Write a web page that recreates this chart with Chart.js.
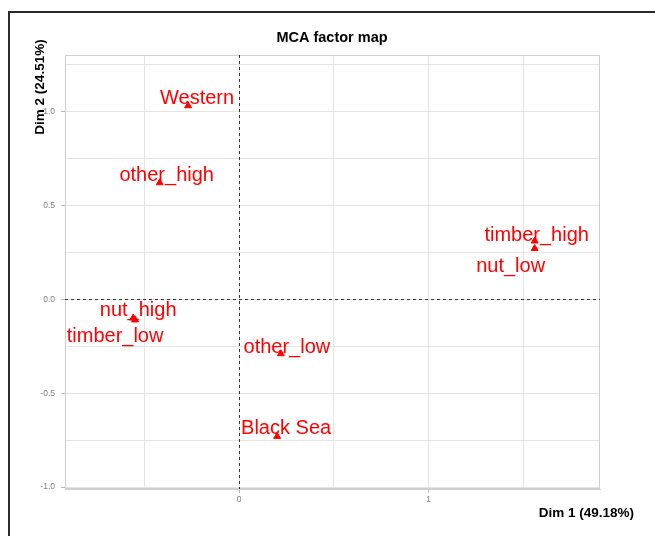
<!DOCTYPE html>
<html>
<head>
<meta charset="utf-8">
<script src="https://cdn.jsdelivr.net/npm/chart.js@4"></script>
<style>
  html, body { margin: 0; padding: 0; background: #fff; }
  #wrap { width: 655px; height: 536px; }
</style>
</head>
<body>
<div id="wrap"><canvas id="mcaChart" width="655" height="536"></canvas></div>
<script>
// categories and their coordinates on the two dimensions
const categories = ['Western', 'other_high', 'timber_high', 'nut_low', 'nut_high', 'timber_low', 'other_low', 'Black Sea'];
const dim1 = [-0.27, -0.42, 1.56, 1.56, -0.56, -0.55, 0.22, 0.20];
const dim2 = [1.03, 0.62, 0.31, 0.27, -0.10, -0.11, -0.29, -0.73];

// grid lines / tick labels
const xTicks = [-0.5, 0, 0.5, 1, 1.5];
const xTickLabels = ['', '0', '', '1', ''];
const yTicks = [-1, -0.75, -0.5, -0.25, 0, 0.25, 0.5, 0.75, 1, 1.25];
const yTickLabels = ['-1.0', '', '-0.5', '', '0.0', '', '0.5', '', '1.0', ''];

const chartTitle = 'MCA factor map';
const xTitle = 'Dim 1 (49.18%)';
const yTitle = 'Dim 2 (24.51%)';

// label placement relative to the marker (pixels), like a repel layout
const labelShift = [[9, -7], [7, -7], [2, -6], [-24, 18], [5, -8], [-20, 17], [6, -6], [9, -8]];

function getPoints() {
  let pts = [];
  for (let i = 0; i < categories.length; i++) {
    pts.push({ x: dim1[i], y: dim2[i] });
  }
  return pts;
}

const extras = {
  id: 'extras',
  beforeDatasetsDraw(chart) {
    const ctx = chart.ctx;
    const a = chart.chartArea;
    const xs = chart.scales.x, ys = chart.scales.y;
    ctx.save();
    // plot border
    ctx.strokeStyle = '#cfcfcf';
    ctx.lineWidth = 1;
    ctx.strokeRect(a.left + 0.5, a.top + 0.5, a.right - a.left - 1, a.bottom - a.top - 1);
    // dashed zero lines
    ctx.strokeStyle = '#333';
    ctx.setLineDash([3, 3]);
    const x0 = Math.round(xs.getPixelForValue(0)) + 0.5;
    const y0 = Math.round(ys.getPixelForValue(0)) + 0.5;
    ctx.beginPath();
    ctx.moveTo(x0, a.top); ctx.lineTo(x0, a.bottom);
    ctx.moveTo(a.left, y0); ctx.lineTo(a.right, y0);
    ctx.stroke();
    ctx.restore();
  },
  afterDraw(chart) {
    const ctx = chart.ctx;
    const xs = chart.scales.x, ys = chart.scales.y;
    ctx.save();
    // outer frame
    ctx.strokeStyle = '#2b2b2b';
    ctx.lineWidth = 2;
    ctx.beginPath();
    ctx.moveTo(9, 536); ctx.lineTo(9, 12); ctx.lineTo(655, 12);
    ctx.stroke();
    // titles
    ctx.fillStyle = '#000';
    ctx.textBaseline = 'middle';
    ctx.textAlign = 'center';
    ctx.font = 'bold 14.5px "Liberation Sans", Arial, sans-serif';
    ctx.fillText(chartTitle, 332, 38);
    ctx.font = 'bold 13.5px "Liberation Sans", Arial, sans-serif';
    ctx.textAlign = 'right';
    ctx.fillText(xTitle, 634, 513);
    ctx.save();
    ctx.translate(40, 87);
    ctx.rotate(-Math.PI / 2);
    ctx.textAlign = 'center';
    ctx.fillText(yTitle, 0, 0);
    ctx.restore();
    // point labels
    ctx.fillStyle = '#ff0000';
    ctx.textAlign = 'center';
    ctx.font = '20px "Liberation Sans", Arial, sans-serif';
    for (let i = 0; i < categories.length; i++) {
      const px = xs.getPixelForValue(dim1[i]);
      const py = ys.getPixelForValue(dim2[i]);
      ctx.fillText(categories[i], px + labelShift[i][0], py + labelShift[i][1]);
    }
    ctx.restore();
  }
};

const data = {
  datasets: [{
    label: 'categories',
    data: getPoints(),
    pointStyle: 'triangle',
    pointRadius: 4,
    pointHoverRadius: 4,
    backgroundColor: '#ff0000',
    borderColor: '#ff0000',
    borderWidth: 1,
    showLine: false
  }]
};

const options = {
  responsive: false,
  animation: false,
  events: [],
  layout: { padding: { left: 0, top: 55, right: 55, bottom: 0 } },
  plugins: {
    legend: { display: false },
    title: { display: false },
    tooltip: { enabled: false }
  },
  scales: {
    x: {
      type: 'linear',
      min: -0.92,
      max: 1.905,
      afterBuildTicks(scale) { scale.ticks = xTicks.map(v => ({ value: v })); },
      afterFit(scale) { scale.height = 47; },
      ticks: {
        autoSkip: false,
        maxRotation: 0,
        padding: 2,
        color: '#808080',
        font: { size: 8.5, family: '"Liberation Sans", Arial, sans-serif' },
        callback: (v, i) => xTickLabels[i]
      },
      grid: {
        color: '#e4e4e4',
        tickLength: 4,
        tickColor: (c) => (c.tick && xTickLabels[c.index] !== '') ? '#bbbbbb' : 'rgba(0,0,0,0)'
      },
      border: { color: '#cfcfcf' }
    },
    y: {
      type: 'linear',
      min: -1.01,
      max: 1.30,
      afterBuildTicks(scale) { scale.ticks = yTicks.map(v => ({ value: v })); },
      afterFit(scale) { scale.width = 65; },
      ticks: {
        autoSkip: false,
        padding: 6,
        color: '#808080',
        font: { size: 8.5, family: '"Liberation Sans", Arial, sans-serif' },
        callback: (v, i) => yTickLabels[i]
      },
      grid: {
        color: '#e4e4e4',
        tickLength: 4,
        tickColor: (c) => (c.tick && yTickLabels[c.index] !== '') ? '#bbbbbb' : 'rgba(0,0,0,0)'
      },
      border: { color: '#cfcfcf' }
    }
  }
};

const mcaChart = new Chart(document.getElementById('mcaChart'), {
  type: 'scatter',
  data: data,
  options: options,
  plugins: [extras]
});
</script>
</body>
</html>
